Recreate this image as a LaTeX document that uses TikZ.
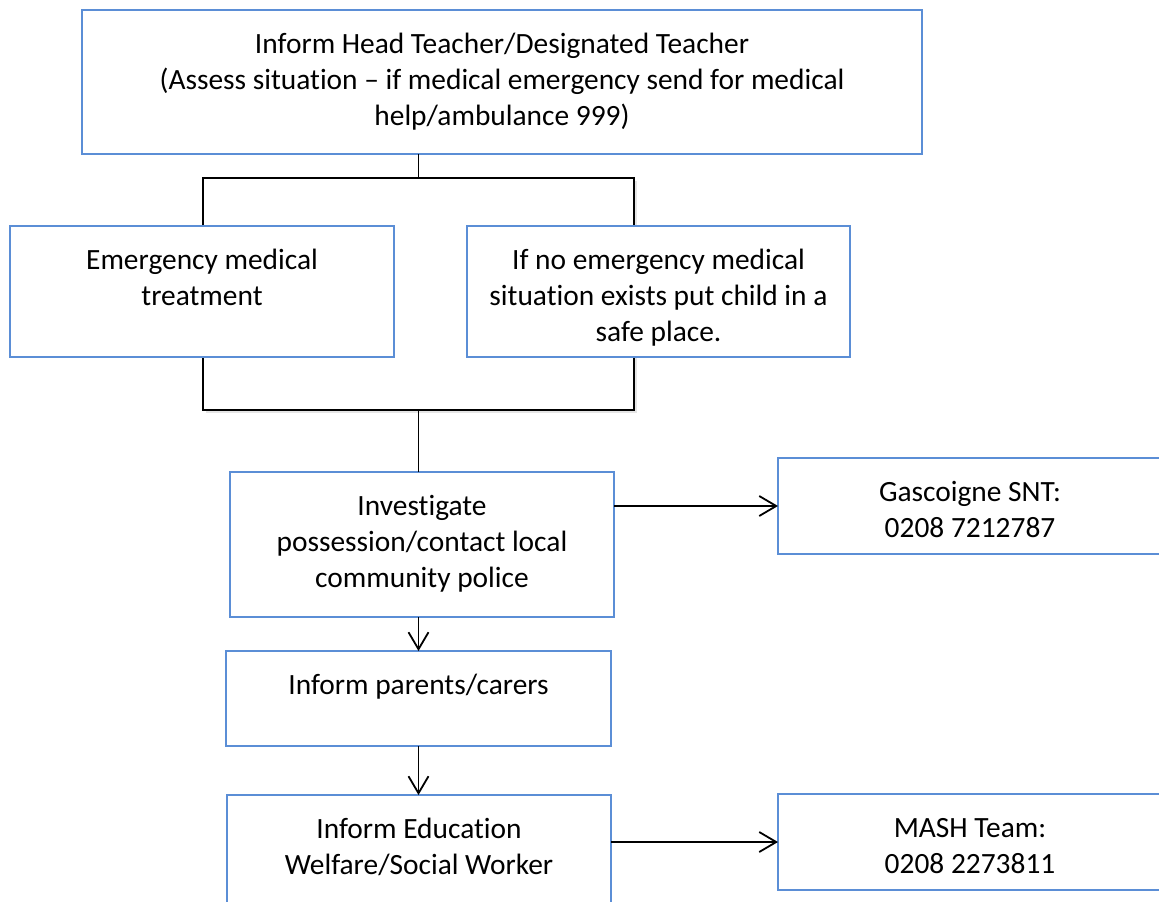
\documentclass[tikz,border=0pt]{standalone}
\usepackage{fontspec}
\setmainfont{Carlito}[Ligatures=NoCommon]
\usetikzlibrary{arrows.meta,shadows}
\definecolor{boxblue}{RGB}{91,142,214}
\begin{document}
\begin{tikzpicture}[x=1pt,y=-1pt,
  box/.style={draw=boxblue, line width=2pt, fill=white, inner sep=0pt, outer sep=0pt},
  txt/.style={font=\fontsize{29.4}{36.1}\selectfont, align=center, anchor=north, inner sep=0pt},
  conn/.style={line width=1.8pt, black},
  arr/.style={conn, -{Straight Barb[length=17pt,width=20pt,line width=1.8pt]}},
  bracketbox/.style={draw=black, line width=1.8pt, fill=white, inner sep=0pt, outer sep=0pt,
    drop shadow={shadow xshift=3pt, shadow yshift=-3pt, opacity=0.10, fill=black}}
]
\useasboundingbox (0,0) rectangle (1159,902);

% bracket behind the two middle boxes
\node[bracketbox, minimum width=431pt, minimum height=232pt] (bracket) at (418.5,294) {};

% boxes
\node[box, minimum width=840pt, minimum height=144pt] (top) at (502,82) {};
\node[box, minimum width=384pt, minimum height=131pt] (emerg) at (202,291.5) {};
\node[box, minimum width=383pt, minimum height=131pt] (safe) at (658.5,291.5) {};
\node[box, minimum width=384pt, minimum height=145pt] (inv) at (422,544.5) {};
\node[box, minimum width=384pt, minimum height=96pt] (gas) at (970,506) {};
\node[box, minimum width=385pt, minimum height=95pt] (par) at (418.5,698.5) {};
\node[box, minimum width=384pt, minimum height=145pt] (edu) at (419,867.5) {};
\node[box, minimum width=384pt, minimum height=96pt] (mash) at (970,842) {};

% texts
\node[txt] (ttop) at (502,28) {\strut Inform Head Teacher/Designated Teacher\\(Assess situation -- if medical emergency send for medical\\help/ambulance 999)};
\node[txt] (temerg) at (202,244) {\strut Emergency medical\\treatment};
\node[txt] (tsafe) at (658.5,244) {\strut If no emergency medical\\situation exists put child in a\\safe place.};
\node[txt] (tinv) at (422,490) {\strut Investigate\\possession/contact local\\community police};
\node[txt] (tgas) at (970,476) {\strut Gascoigne SNT:\\0208 7212787};
\node[txt] (tpar) at (418.5,669) {\strut Inform parents/carers};
\node[txt] (tedu) at (419,813) {\strut Inform Education\\Welfare/Social Worker};
\node[txt] (tmash) at (970,812) {\strut MASH Team:\\0208 2273811};

% connectors
\draw[conn] (bracket.north |- top.south) -- (bracket.north);
\draw[conn] (bracket.south) -- (bracket.south |- inv.north);
\draw[arr] (inv.east |- gas.west) -- (gas.west);
\draw[arr] (par.north |- inv.south) -- (par.north);
\draw[arr] (par.south) -- (par.south |- edu.north);
\draw[arr] (edu.east |- mash.west) -- (mash.west);
\end{tikzpicture}
\end{document}
